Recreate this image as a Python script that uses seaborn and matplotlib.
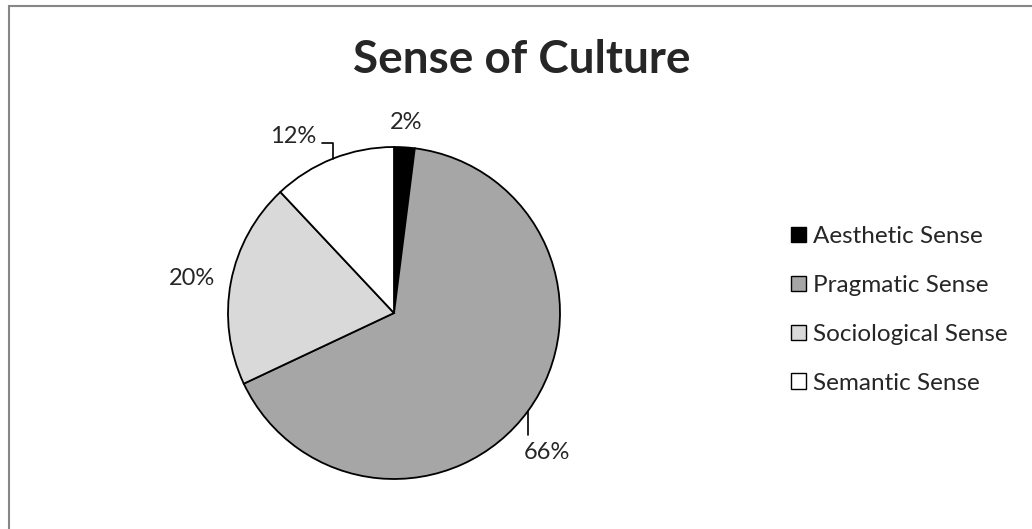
import numpy as np
import matplotlib
matplotlib.use("Agg")
import matplotlib.pyplot as plt
from matplotlib.patches import Patch, Rectangle
import seaborn as sns

# data
categories = ["Aesthetic Sense", "Pragmatic Sense", "Sociological Sense", "Semantic Sense"]
shares = [2, 66, 20, 12]
labels = ["2%", "66%", "20%", "12%"]
colors = ["#000000", "#a6a6a6", "#d9d9d9", "#ffffff"]

sns.set_theme(style="white")
plt.rcParams["font.family"] = ["Lato", "DejaVu Sans"]

W, H = 1032, 529
fig = plt.figure(figsize=(W / 100, H / 100), dpi=100)

# pie axes: center (394, 313) px, radius 166 px
cx, cy, r = 394, 313, 166
ax = fig.add_axes([(cx - r) / W, (H - cy - r) / H, 2 * r / W, 2 * r / H])
wedges, _ = ax.pie(shares, colors=colors, startangle=90, counterclock=False,
                   wedgeprops=dict(edgecolor="black", linewidth=1.3))
ax.set_xlim(-1, 1)
ax.set_ylim(-1, 1)
ax.set_aspect("equal")
ax.axis("off")

fs = 17
for w, lab in zip(wedges, labels):
    ang = np.deg2rad((w.theta1 + w.theta2) / 2)
    ex, ey = np.cos(ang), np.sin(ang)
    if lab == "2%":
        ax.text(ex * 1.15, ey * 1.15, lab, ha="center", va="center", fontsize=fs, clip_on=False)
    elif lab == "20%":
        ax.text(ex * 1.1, ey * 1.1, lab, ha="right", va="center", fontsize=fs, clip_on=False)
    elif lab == "12%":
        ax.plot([ex, ex, -0.434], [ey, 1.024, 1.024], color="black", lw=1.2, clip_on=False)
        ax.text(-0.47, 1.066, lab, ha="right", va="center", fontsize=fs, clip_on=False)
    else:
        ax.plot([ex, ex], [ey, -0.735], color="black", lw=1.2, clip_on=False)
        ax.text(0.92, -0.84, lab, ha="center", va="center", fontsize=fs, clip_on=False)

fig.text(522 / W, 1 - 73 / H, "Sense of Culture", ha="center", va="baseline",
         fontsize=33, fontweight="bold")

handles = [Patch(facecolor=c, edgecolor="black", linewidth=1.0) for c in colors]
fig.legend(handles, categories, loc="center left",
           bbox_to_anchor=(791 / W, 1 - 310 / H), frameon=False, fontsize=17.5,
           handlelength=0.62, handleheight=0.62, handletextpad=0.3,
           labelspacing=1.15, borderaxespad=0, borderpad=0)

# chart area border
fig.patches.append(Rectangle((9 / W, -0.1), 1.2, 1.1 + (H - 6) / H - 1.0,
                             transform=fig.transFigure, fill=False,
                             edgecolor="#868686", linewidth=1.5))

fig.savefig("out.png", dpi=100, facecolor="white")
